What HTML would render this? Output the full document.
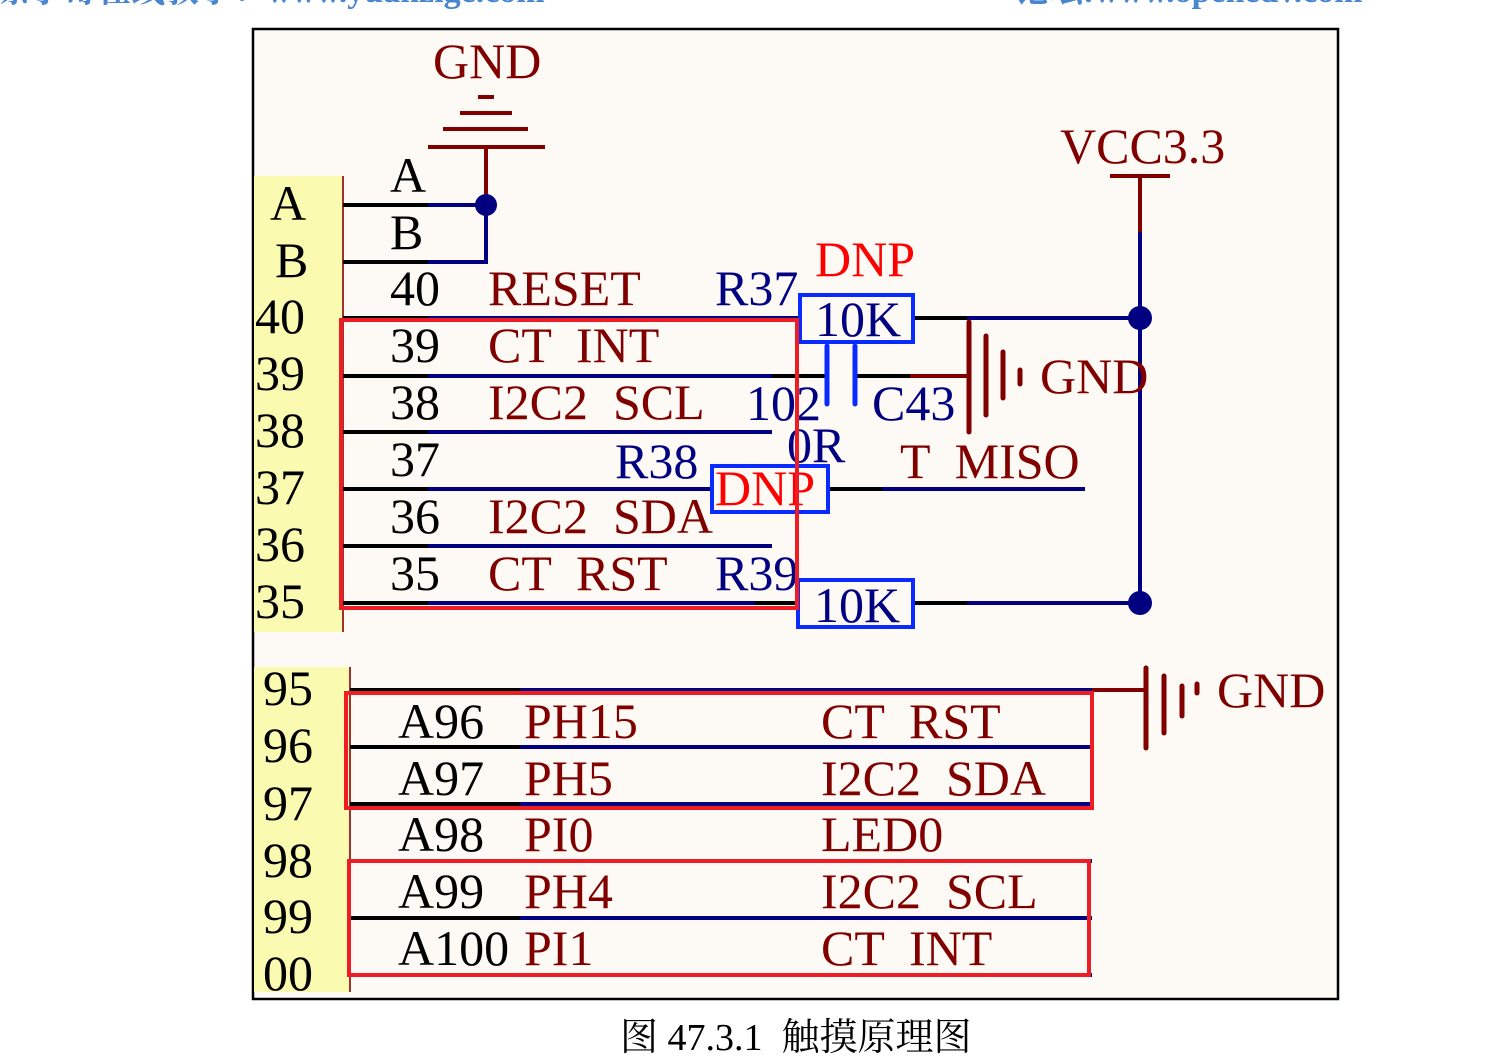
<!DOCTYPE html>
<html><head><meta charset="utf-8"><style>
html,body{margin:0;padding:0;background:#fff;width:1500px;height:1060px;overflow:hidden}
svg{display:block}
text{font-family:"Liberation Serif","Noto Serif CJK SC",serif;font-size:50px;white-space:pre}
.k{fill:#000}.r{fill:#800000}.n{fill:#000080}.d{fill:#ff0000}
</style></head><body>
<svg width="1500" height="1060" xmlns="http://www.w3.org/2000/svg" xml:space="preserve">
<text x="-5" y="2" style="font-family:'Liberation Serif','Noto Serif CJK SC',serif;font-size:34px;font-weight:bold" fill="#4a86d0">原子哥在线教学：www.yuanzige.com</text>
<text x="1015" y="2" style="font-family:'Liberation Serif','Noto Serif CJK SC',serif;font-size:34px;font-weight:bold" fill="#4a86d0">论坛:www.openedv.com</text>
<rect x="253" y="29" width="1085" height="970" fill="#fdfaf5" stroke="#000" stroke-width="2.5"/>
<rect x="254" y="176" width="89" height="456" fill="#fafab0"/>
<line x1="343" y1="176" x2="343" y2="632" stroke="#a03030" stroke-width="2"/>
<rect x="254" y="667" width="96" height="325" fill="#fafab0"/>
<line x1="350" y1="667" x2="350" y2="992" stroke="#a03030" stroke-width="2"/>

<text x="433" y="78" class="r">GND</text>
<g stroke="#800000" stroke-width="4">
<line x1="478" y1="97" x2="494" y2="97"/><line x1="460" y1="113" x2="512" y2="113"/>
<line x1="443" y1="129" x2="528" y2="129"/><line x1="428" y1="147" x2="545" y2="147"/>
<line x1="486" y1="147" x2="486" y2="200"/></g>
<g stroke-width="4" fill="none">
<line x1="343" y1="205" x2="428" y2="205" stroke="#000"/><line x1="428" y1="205" x2="486" y2="205" stroke="#000080"/>
<line x1="343" y1="262" x2="428" y2="262" stroke="#000"/><polyline points="428,262 486,262 486,205" stroke="#000080"/>
</g>
<circle cx="486" cy="205" r="11" fill="#000080"/>

<g stroke-width="4">
<line x1="343" y1="318" x2="428" y2="318" stroke="#000"/><line x1="428" y1="318" x2="800" y2="318" stroke="#000080"/>
<line x1="343" y1="376" x2="428" y2="376" stroke="#000"/><line x1="428" y1="376" x2="772" y2="376" stroke="#000080"/><line x1="772" y1="376" x2="827" y2="376" stroke="#000"/>
<line x1="343" y1="432" x2="428" y2="432" stroke="#000"/><line x1="428" y1="432" x2="772" y2="432" stroke="#000080"/>
<line x1="343" y1="489" x2="428" y2="489" stroke="#000"/><line x1="428" y1="489" x2="712" y2="489" stroke="#000080"/>
<line x1="343" y1="546" x2="428" y2="546" stroke="#000"/><line x1="428" y1="546" x2="772" y2="546" stroke="#000080"/>
<line x1="343" y1="603" x2="428" y2="603" stroke="#000"/><line x1="428" y1="603" x2="755" y2="603" stroke="#000080"/><line x1="755" y1="603" x2="798" y2="603" stroke="#000"/>
<line x1="913" y1="318" x2="967" y2="318" stroke="#000"/><line x1="967" y1="318" x2="1140" y2="318" stroke="#000080"/>
<line x1="913" y1="603" x2="967" y2="603" stroke="#000"/><line x1="967" y1="603" x2="1140" y2="603" stroke="#000080"/>
<line x1="828" y1="489" x2="882" y2="489" stroke="#000"/><line x1="882" y1="489" x2="1085" y2="489" stroke="#000080"/>
<line x1="855" y1="376" x2="910" y2="376" stroke="#000"/><line x1="910" y1="376" x2="969" y2="376" stroke="#800000"/>
<line x1="1140" y1="176" x2="1140" y2="232" stroke="#800000"/><line x1="1140" y1="232" x2="1140" y2="603" stroke="#000080"/>
<line x1="1110" y1="176" x2="1170" y2="176" stroke="#800000"/>
</g>
<circle cx="1140" cy="318" r="12" fill="#000080"/><circle cx="1140" cy="603" r="12" fill="#000080"/>
<text x="1060" y="163" class="r">VCC3.3</text>
<g stroke="#800000" stroke-width="5" stroke-linecap="round">
<line x1="969" y1="322" x2="969" y2="432"/><line x1="986" y1="336" x2="986" y2="415"/>
<line x1="1003" y1="352" x2="1003" y2="398"/><line x1="1020" y1="370" x2="1020" y2="384"/></g>
<text x="1040" y="393" class="r">GND</text>
<g stroke="#0a2bff" stroke-width="5" stroke-linecap="round">
<line x1="827" y1="346" x2="827" y2="404"/><line x1="855" y1="346" x2="855" y2="404"/></g>
<text x="746" y="420" class="n">102</text><text x="872" y="420" class="n">C43</text>
<g fill="none" stroke="#0a2bff" stroke-width="4">
<rect x="800" y="295" width="113" height="47"/><rect x="712" y="466" width="116" height="46"/><rect x="798" y="580" width="115" height="47"/></g>
<text x="815" y="336" class="n">10K</text><text x="814" y="622" class="n">10K</text>
<text x="715" y="505" class="d">DNP</text>
<text x="815" y="276" class="d">DNP</text>
<text x="715" y="305" class="n">R37</text><text x="615" y="478" class="n">R38</text><text x="787" y="462" class="n">0R</text>
<text x="715" y="590" class="n">R39</text>
<text x="900" y="478" class="r">T  MISO</text>

<text x="390" y="192" class="k">A</text><text x="390" y="249" class="k">B</text>
<text x="390" y="305" class="k">40</text><text x="390" y="362" class="k">39</text><text x="390" y="419" class="k">38</text>
<text x="390" y="476" class="k">37</text><text x="390" y="533" class="k">36</text><text x="390" y="590" class="k">35</text>
<text x="488" y="305" class="r">RESET</text><text x="488" y="362" class="r">CT  INT</text>
<text x="488" y="419" class="r">I2C2  SCL</text><text x="488" y="533" class="r">I2C2  SDA</text>
<text x="488" y="590" class="r">CT  RST</text>
<text x="270" y="220" class="k">A</text><text x="275" y="277" class="k">B</text>
<text x="255" y="333" class="k">40</text><text x="255" y="390" class="k">39</text><text x="255" y="447" class="k">38</text>
<text x="255" y="504" class="k">37</text><text x="255" y="561" class="k">36</text><text x="255" y="618" class="k">35</text>
<rect x="341" y="320" width="456" height="288" fill="none" stroke="#ee1c24" stroke-width="4"/>

<g stroke-width="4">
<line x1="350" y1="690" x2="520" y2="690" stroke="#000"/><line x1="520" y1="690" x2="1092" y2="690" stroke="#000080"/>
<line x1="1092" y1="690" x2="1146" y2="690" stroke="#800000"/>
<line x1="350" y1="747" x2="520" y2="747" stroke="#000"/><line x1="520" y1="747" x2="1090" y2="747" stroke="#000080"/>
<line x1="350" y1="804" x2="520" y2="804" stroke="#000"/><line x1="520" y1="804" x2="1090" y2="804" stroke="#000080"/>
<line x1="350" y1="861" x2="520" y2="861" stroke="#000"/><line x1="520" y1="861" x2="1092" y2="861" stroke="#000080"/>
<line x1="350" y1="918" x2="520" y2="918" stroke="#000"/><line x1="520" y1="918" x2="1092" y2="918" stroke="#000080"/>
<line x1="350" y1="975" x2="520" y2="975" stroke="#000"/><line x1="520" y1="975" x2="1092" y2="975" stroke="#000080"/>
</g>
<g stroke="#800000" stroke-width="5" stroke-linecap="round">
<line x1="1146" y1="668" x2="1146" y2="748"/><line x1="1164" y1="676" x2="1164" y2="733"/>
<line x1="1182" y1="686" x2="1182" y2="716"/><line x1="1197" y1="684" x2="1197" y2="693"/></g>
<text x="1217" y="707" class="r">GND</text>
<text x="263" y="705" class="k">95</text><text x="263" y="762" class="k">96</text><text x="263" y="820" class="k">97</text>
<text x="263" y="877" class="k">98</text><text x="263" y="933" class="k">99</text><text x="263" y="990" class="k">00</text>
<text x="398" y="738" class="k">A96</text><text x="398" y="795" class="k">A97</text><text x="398" y="851" class="k">A98</text>
<text x="398" y="908" class="k">A99</text><text x="398" y="965" class="k">A100</text>
<text x="524" y="738" class="r">PH15</text><text x="524" y="795" class="r">PH5</text><text x="524" y="851" class="r">PI0</text>
<text x="524" y="908" class="r">PH4</text><text x="524" y="965" class="r">PI1</text>
<text x="821" y="738" class="r">CT  RST</text><text x="821" y="795" class="r">I2C2  SDA</text><text x="821" y="851" class="r">LED0</text>
<text x="821" y="908" class="r">I2C2  SCL</text><text x="821" y="965" class="r">CT  INT</text>
<rect x="346" y="693" width="746" height="115" fill="none" stroke="#ee1c24" stroke-width="4"/>
<rect x="349" y="861" width="740" height="114" fill="none" stroke="#ee1c24" stroke-width="4"/>

<text x="620" y="1050" style="font-family:'Liberation Serif','Noto Serif CJK SC',serif;font-size:38px" fill="#000">图 47.3.1  触摸原理图</text>
</svg>
</body></html>
